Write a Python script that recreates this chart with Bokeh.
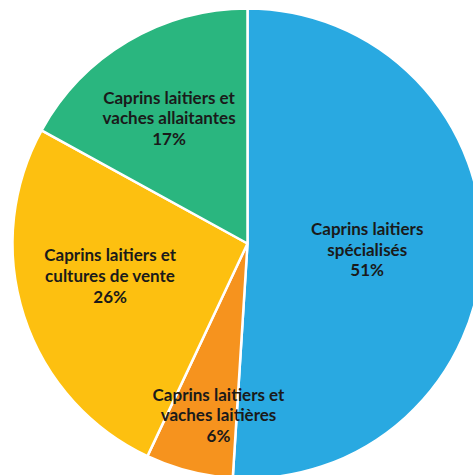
import math
from bokeh.plotting import figure
from bokeh.models import Range1d, ColumnDataSource
from bokeh.core.properties import value
from bokeh.embed import file_html
from bokeh.resources import INLINE

categories = [
    "Caprins laitiers\nspécialisés",
    "Caprins laitiers et\nvaches laitières",
    "Caprins laitiers et\ncultures de vente",
    "Caprins laitiers et\nvaches allaitantes",
]
shares = [51, 6, 26, 17]
colors = ["#29A9E1", "#F6931E", "#FDC010", "#2AB67F"]

# layout
W, H = 473, 475
cx, cy, R = 247, 232, 235
label_r = [0.51, 0.74, 0.60, 0.63]
label_da = [-1.0, 4.8, -4.9, 1.4]

total = float(sum(shares))
starts, ends, lx, ly, texts = [], [], [], [], []
a = math.pi / 2
for i, s in enumerate(shares):
    span = 2 * math.pi * s / total
    st, en = a, a - span
    starts.append(st)
    ends.append(en)
    mid = (st + en) / 2 + math.radians(label_da[i])
    lx.append(cx + R * label_r[i] * math.cos(mid))
    ly.append(cy + R * label_r[i] * math.sin(mid))
    texts.append(f"{categories[i]}\n{s}%")
    a = en

src = ColumnDataSource(dict(start=starts, end=ends, color=colors,
                            x=[cx] * 4, y=[cy] * 4))
lab = ColumnDataSource(dict(x=lx, y=ly, text=texts))

p = figure(width=W, height=H, output_backend="svg", toolbar_location=None,
           x_range=Range1d(0, W), y_range=Range1d(0, H), min_border=0)
p.axis.visible = False
p.grid.visible = False
p.outline_line_color = None
p.background_fill_color = "white"

p.wedge(x="x", y="y", radius=R, start_angle="start", end_angle="end",
        direction="clock", fill_color="color", line_color="white",
        line_width=2.5, source=src)

p.text(x="x", y="y", text="text", source=lab, text_align="center",
       text_baseline="middle", text_font=value("Lato"),
       text_font_style="bold", text_font_size="17px",
       text_line_height=0.98, text_color="#1a1a1a")

open("out.html", "w").write(file_html(p, INLINE))
